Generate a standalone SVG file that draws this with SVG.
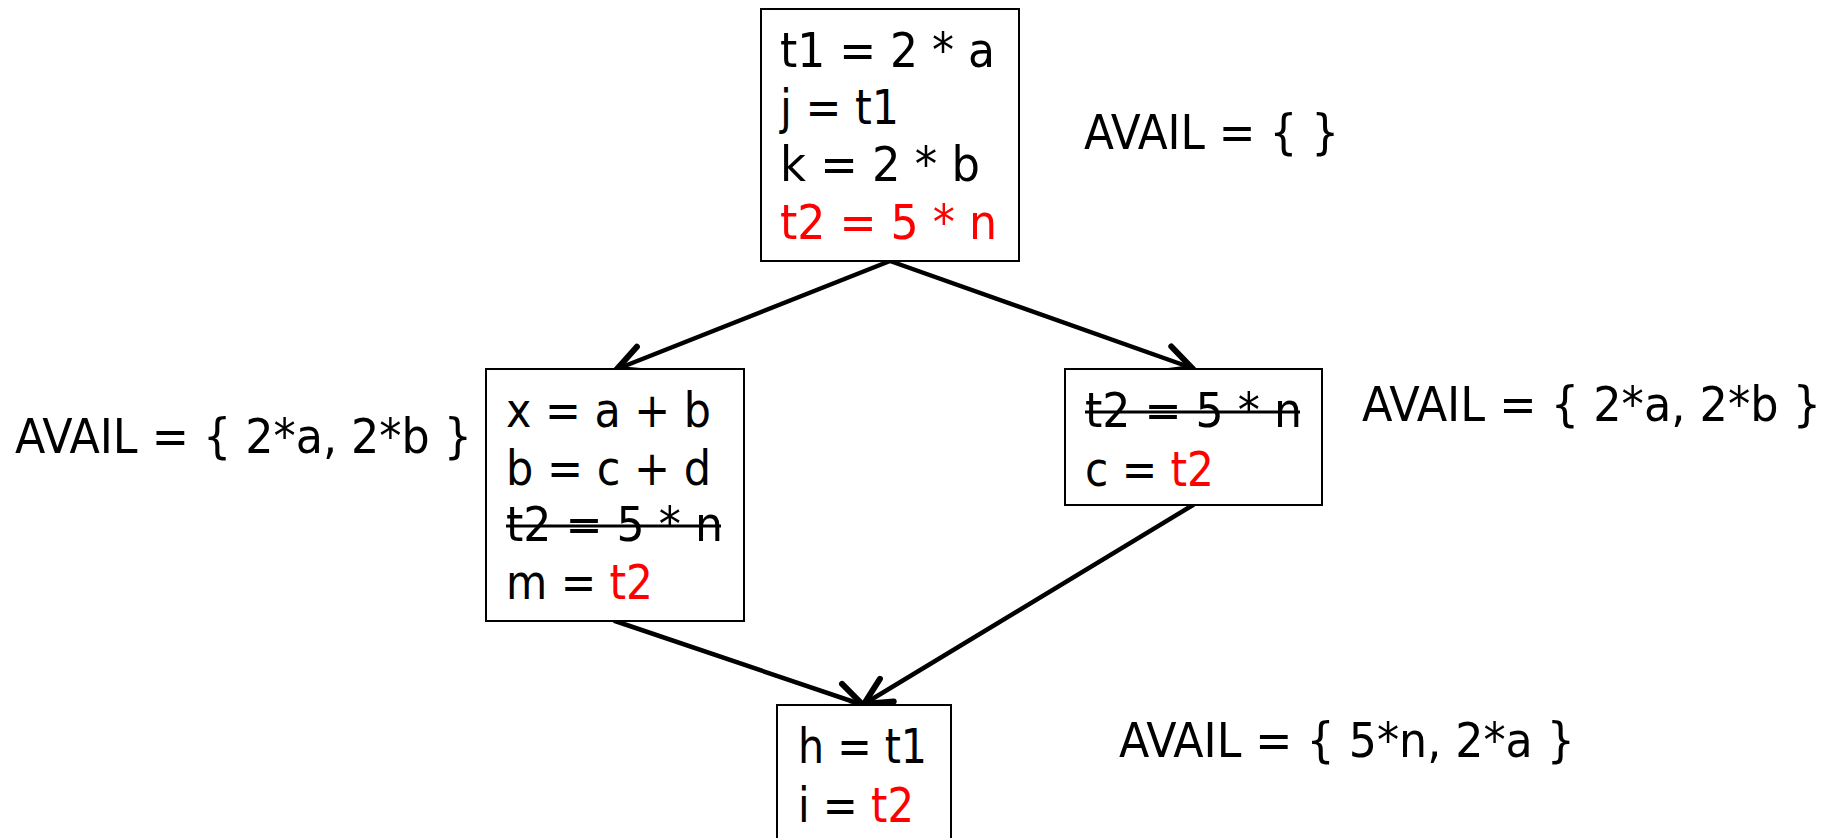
<svg xmlns="http://www.w3.org/2000/svg" width="1835" height="838" viewBox="0 0 1835 838">
<style>
.box{fill:#fff;stroke:#000;stroke-width:2}
.t{font-family:"DejaVu Sans Condensed","DejaVu Sans",sans-serif;font-size:48px;fill:#000}
.r{fill:#ff0000}
.strike{stroke:#000;stroke-width:3}
.edge{stroke:#000;stroke-width:4.5;fill:none;stroke-linecap:round}
</style>
<defs>
<marker id="arr" markerUnits="userSpaceOnUse" orient="auto" refX="0" refY="0" markerWidth="40" markerHeight="40" viewBox="-25 -15 30 30" overflow="visible">
<path d="M-20,-10 L0,0 L-20,10" fill="none" stroke="#000" stroke-width="4.5" stroke-linecap="round" stroke-linejoin="miter"/>
</marker>
</defs>
<rect width="1835" height="838" fill="#fff"/>
<g id="connectors">
<line class="edge" x1="890" y1="261" x2="617" y2="369" marker-end="url(#arr)"/>
<line class="edge" x1="890" y1="261" x2="1192" y2="368" marker-end="url(#arr)"/>
<line class="edge" x1="615" y1="621" x2="863" y2="705" marker-end="url(#arr)"/>
<line class="edge" x1="1193" y1="505" x2="864" y2="704" marker-end="url(#arr)"/>
</g>
<g id="node-top">
<rect class="box" x="761" y="9" width="258" height="252"/>
<text class="t" x="780" y="67" textLength="215" lengthAdjust="spacingAndGlyphs">t1 = 2 * a</text>
<text class="t" x="780" y="124" textLength="119" lengthAdjust="spacingAndGlyphs">j = t1</text>
<text class="t" x="780" y="181" textLength="200" lengthAdjust="spacingAndGlyphs">k = 2 * b</text>
<text class="t r" x="780" y="239" textLength="217" lengthAdjust="spacingAndGlyphs">t2 = 5 * n</text>
</g>
<g id="avail-top">
<text class="t" x="1084" y="149" textLength="255" lengthAdjust="spacingAndGlyphs">AVAIL = { }</text>
</g>
<g id="node-left">
<rect class="box" x="486" y="369" width="258" height="252"/>
<text class="t" x="506" y="427" textLength="205" lengthAdjust="spacingAndGlyphs">x = a + b</text>
<text class="t" x="506" y="485" textLength="205" lengthAdjust="spacingAndGlyphs">b = c + d</text>
<text class="t" x="506" y="541" textLength="217" lengthAdjust="spacingAndGlyphs">t2 = 5 * n</text>
<line class="strike" x1="506" y1="526" x2="721" y2="526"/>
<text class="t" x="506" y="599" textLength="147" lengthAdjust="spacingAndGlyphs">m = <tspan class="r">t2</tspan></text>
</g>
<g id="avail-left">
<text class="t" x="15" y="453" textLength="457" lengthAdjust="spacingAndGlyphs">AVAIL = { 2*a, 2*b }</text>
</g>
<g id="node-right">
<rect class="box" x="1065" y="369" width="257" height="136"/>
<text class="t" x="1085" y="427" textLength="217" lengthAdjust="spacingAndGlyphs">t2 = 5 * n</text>
<line class="strike" x1="1085" y1="412" x2="1300" y2="412"/>
<text class="t" x="1085" y="486" textLength="129" lengthAdjust="spacingAndGlyphs">c = <tspan class="r">t2</tspan></text>
</g>
<g id="avail-right">
<text class="t" x="1362" y="421" textLength="459" lengthAdjust="spacingAndGlyphs">AVAIL = { 2*a, 2*b }</text>
</g>
<g id="node-bottom">
<rect class="box" x="777" y="705" width="174" height="170"/>
<text class="t" x="798" y="763" textLength="129" lengthAdjust="spacingAndGlyphs">h = t1</text>
<text class="t" x="798" y="822" textLength="116" lengthAdjust="spacingAndGlyphs">i = <tspan class="r">t2</tspan></text>
</g>
<g id="avail-bottom">
<text class="t" x="1119" y="757" textLength="456" lengthAdjust="spacingAndGlyphs">AVAIL = { 5*n, 2*a }</text>
</g>
</svg>
